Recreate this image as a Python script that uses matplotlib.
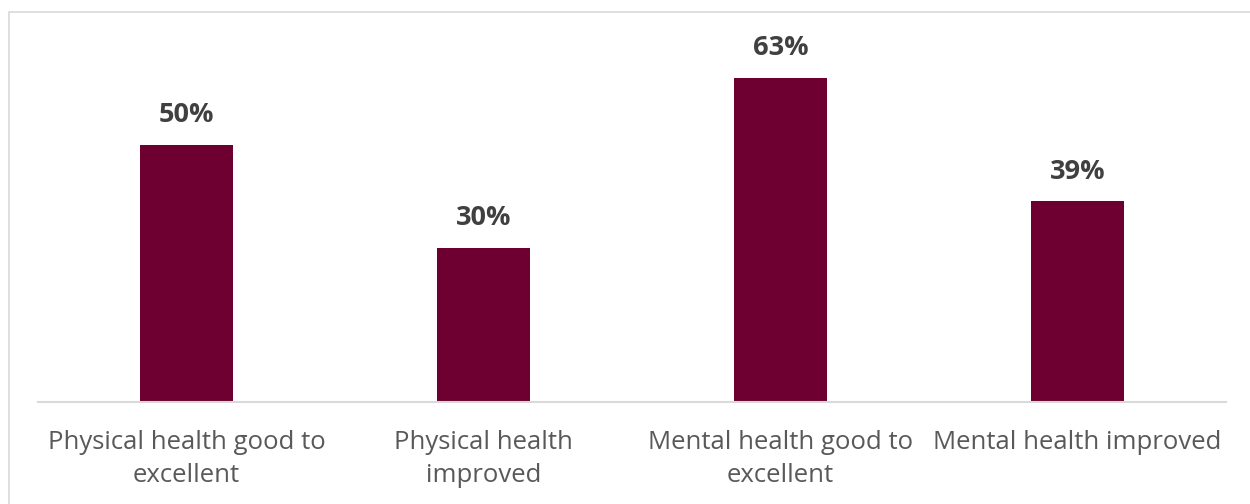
import matplotlib
matplotlib.use("Agg")
import matplotlib.pyplot as plt
from matplotlib.patches import Rectangle

categories = ["Physical health good to\nexcellent", "Physical health\nimproved",
              "Mental health good to\nexcellent", "Mental health improved"]
values = [50, 30, 63, 39]

plt.rcParams['font.family'] = ['Open Sans', 'DejaVu Sans']

W, H = 1250, 504
fig = plt.figure(figsize=(W/100, H/100), dpi=100)
ax = fig.add_axes([38/W, (H-402)/H, 1188/W, 360/H])

x = range(len(categories))
bars = ax.bar(x, values, width=93/297, color="#6D0030", zorder=2)
ax.set_xlim(-0.5, len(categories)-0.5)
ax.set_ylim(0, 70)

for xi, v in zip(x, values):
    ax.annotate(f"{v}%", (xi, v), xytext=(0, 12), textcoords="offset points",
                ha="center", va="bottom", fontsize=19.5, fontweight="bold", color="#404040")

ax.set_xticks(list(x))
ax.set_xticklabels(categories, fontsize=18.5, color="#595959", linespacing=1.42)
ax.tick_params(axis="x", length=0, pad=20)
ax.set_yticks([])
for s in ["top", "right", "left"]:
    ax.spines[s].set_visible(False)
ax.spines["bottom"].set_color("#D9D9D9")
ax.spines["bottom"].set_linewidth(1.5)

fig.patches.append(Rectangle((9/W, -0.1), 1.2, 1.1 - 12.5/H, transform=fig.transFigure,
                             fill=False, edgecolor="#D9D9D9", linewidth=1.2))

fig.savefig("out.png", dpi=100)
